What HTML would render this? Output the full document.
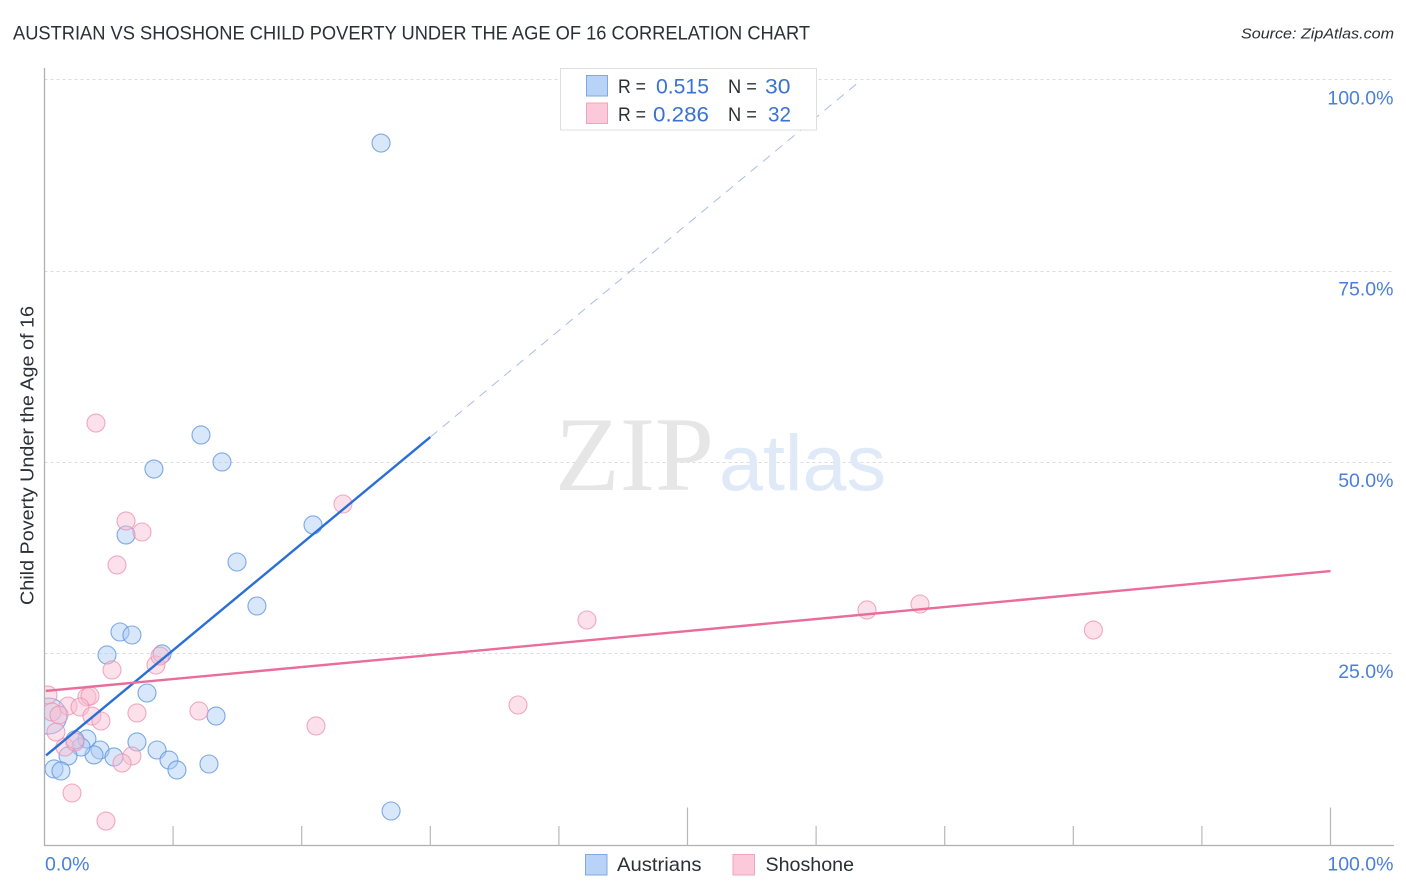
<!DOCTYPE html>
<html lang="en">
<head>
<meta charset="utf-8">
<title>Austrian vs Shoshone Child Poverty Under the Age of 16 Correlation Chart</title>
<style>
html,body{margin:0;padding:0;background:#fff;width:1406px;height:892px;overflow:hidden}
svg{display:block;font-family:"Liberation Sans",sans-serif}
</style>
</head>
<body>
<svg id="chart" xmlns="http://www.w3.org/2000/svg" width="1406" height="892" viewBox="0 0 1406 892">
  <defs>
    <clipPath id="plot-clip"><rect x="45" y="68" width="1349" height="777"/></clipPath>
  </defs>
  <text x="13" y="39.500" font-size="19.500" fill="#2b2f36" textLength="797" lengthAdjust="spacingAndGlyphs">AUSTRIAN VS SHOSHONE CHILD POVERTY UNDER THE AGE OF 16 CORRELATION CHART</text>
  <text x="1241" y="38.500" font-size="15" font-style="italic" fill="#2b2f36" textLength="153" lengthAdjust="spacingAndGlyphs">Source: ZipAtlas.com</text>

  <g id="grid"></g>

  <g>
    <text x="555" y="490" font-family="'Liberation Serif',serif" font-size="106" fill="#e6e6e6" textLength="159" lengthAdjust="spacingAndGlyphs">ZIP</text>
    <text x="719" y="490" font-size="79" fill="#dfe9f8" textLength="167" lengthAdjust="spacingAndGlyphs">atlas</text>
  </g>

  <g id="axes">
    <line x1="44.500" y1="68" x2="44.500" y2="846" stroke="#b0b0b0" stroke-width="1.300"/>
    <line x1="44" y1="845.500" x2="1394" y2="845.500" stroke="#b0b0b0" stroke-width="1.300"/>
  </g>

  <g id="points" clip-path="url(#plot-clip)"></g>
  <g id="trends"></g>
  <g id="tick-labels"></g>

  <text transform="translate(33.500,605) rotate(-90)" font-size="18.500" fill="#2b2f36" textLength="299" lengthAdjust="spacingAndGlyphs">Child Poverty Under the Age of 16</text>

  <g>
    <rect x="560.500" y="68.500" width="256" height="61.500" fill="#fff" stroke="#dfdfdf" stroke-width="1"/>
    <rect x="586.500" y="75.500" width="21" height="20.500" fill="#b9d3f6" stroke="#7fa9e2" stroke-width="1"/>
    <rect x="586.500" y="103" width="21" height="20.500" fill="#fbc9da" stroke="#f0a3bd" stroke-width="1"/>
    <text x="618" y="93" font-size="19" fill="#2b2f36" textLength="28" lengthAdjust="spacingAndGlyphs">R =</text>
    <text x="656" y="93.500" font-size="21" fill="#3a72d2" textLength="53" lengthAdjust="spacingAndGlyphs">0.515</text>
    <text x="728" y="93" font-size="19" fill="#2b2f36" textLength="29" lengthAdjust="spacingAndGlyphs">N =</text>
    <text x="765" y="93.500" font-size="21" fill="#3a72d2" textLength="25.500" lengthAdjust="spacingAndGlyphs">30</text>
    <text x="618" y="121" font-size="19" fill="#2b2f36" textLength="28" lengthAdjust="spacingAndGlyphs">R =</text>
    <text x="653" y="121.500" font-size="21" fill="#3a72d2" textLength="56" lengthAdjust="spacingAndGlyphs">0.286</text>
    <text x="728" y="121" font-size="19" fill="#2b2f36" textLength="29" lengthAdjust="spacingAndGlyphs">N =</text>
    <text x="768" y="121.500" font-size="21" fill="#3a72d2" textLength="23" lengthAdjust="spacingAndGlyphs">32</text>
  </g>

  <g>
    <g>
      <rect x="585.500" y="854.500" width="21.500" height="20.500" fill="#b9d3f6" stroke="#7fa9e2" stroke-width="1"/>
      <text x="617" y="871" font-size="19.500" fill="#2b2f36" textLength="84.500" lengthAdjust="spacingAndGlyphs">Austrians</text>
    </g>
    <g>
      <rect x="733" y="854.500" width="21.500" height="20.500" fill="#fbc9da" stroke="#f0a3bd" stroke-width="1"/>
      <text x="765.500" y="871" font-size="19.500" fill="#2b2f36" textLength="88.500" lengthAdjust="spacingAndGlyphs">Shoshone</text>
    </g>
  </g>
</svg>
<script>
const austrianX = [26.17,12.17,13.80,8.51,20.88,6.34,14.97,16.52,5.87,6.80,4.86,9.14,7.97,13.34,7.19,8.75,9.68,10.30,12.79,3.30,4.32,5.40,3.85,2.84,2.37,1.83,0.74,1.28,0.33,26.95];
const austrianY = [91.80,53.65,50.12,49.20,41.89,40.58,37.05,31.30,27.90,27.51,24.90,25.03,19.93,16.92,13.53,12.48,11.17,9.87,10.65,13.92,12.48,11.57,11.83,12.87,13.79,11.70,10.00,9.74,16.92,4.51];
const austrianWeight = [1,1,1,1,1,1,1,1,1,1,1,1,1,1,1,1,1,1,1,1,1,1,1,1,1,1,1,1,4,1];
const shoshoneX = [4.00,6.34,7.58,5.64,23.21,42.18,63.96,68.08,81.56,36.82,21.11,12.01,7.19,5.25,8.67,8.98,3.30,3.54,1.83,2.76,3.69,4.39,0.27,0.58,1.13,0.89,1.59,2.37,6.80,6.03,2.14,4.78];
const shoshoneY = [55.21,42.41,40.97,36.66,44.63,29.47,30.78,31.56,28.16,18.36,15.62,17.58,17.32,22.94,23.59,24.76,19.41,19.54,18.23,18.10,16.92,16.27,19.67,17.45,17.05,14.83,12.87,13.53,11.70,10.78,6.86,3.20];
const shoshoneWeight = [1,1,1,1,1,1,1,1,1,1,1,1,1,1,1,1,1,1,1,1,1,1,1,1,1,1,1,1,1,1,1,1];
const austrianTrend = [11.6, 1.3925];
const austrianTrendSolidEnd = [30];
const austrianTrendDashEnd = [63.4];
const shoshoneTrend = [20.2, 35.87];
const xTickValues = [0,10,20,30,40,50,60,70,80,90,100];
const xMajorTicks = [50,100];
const xTickLabels = ["0.0%","100.0%"];
const xLabelValues = [0,100];
const yGridValues = [25,50,75,100];
const yTickLabels = ["25.0%","50.0%","75.0%","100.0%"];

const NS = 'http://www.w3.org/2000/svg';
const sx = v => 44.5 + v * 12.86;
const sy = v => 845.5 - v * 7.652;
const baseR = 9;

function mk(parent, tag, attrs) {
  const el = document.createElementNS(NS, tag);
  for (const k in attrs) el.setAttribute(k, attrs[k]);
  parent.appendChild(el);
  return el;
}

const grid = document.getElementById('grid');
yGridValues.forEach(v => {
  const l = mk(grid, 'line', {x1: 44.5, x2: 1394, y1: Math.round(sy(v)) - 0.5, y2: Math.round(sy(v)) - 0.5, stroke: '#dcdcdc', 'stroke-width': 1, 'stroke-dasharray': '3 3'});
  
  
});

const axes = document.getElementById('axes');
xTickValues.forEach(v => {
  if (v === 0) return;
  const top = xMajorTicks.includes(v) ? 807.5 : 826;
  const l = mk(axes, 'line', {x1: sx(v), x2: sx(v), y1: top, y2: 845.5, stroke: '#b8b8b8', 'stroke-width': 1.2});
  
  
});

const points = document.getElementById('points');
austrianX.forEach((x, i) => {
  const c = mk(points, 'circle', {cx: sx(x), cy: sy(austrianY[i]), r: baseR * Math.sqrt(austrianWeight[i]), fill: '#a9c9f5', 'fill-opacity': 0.45, stroke: '#5f96de', 'stroke-opacity': 0.8, 'stroke-width': 1.1});
  
  
});
shoshoneX.forEach((x, i) => {
  const c = mk(points, 'circle', {cx: sx(x), cy: sy(shoshoneY[i]), r: baseR * Math.sqrt(shoshoneWeight[i]), fill: '#f9bdd1', 'fill-opacity': 0.45, stroke: '#ec8fae', 'stroke-opacity': 0.75, 'stroke-width': 1.1});
  
  
});

const trends = document.getElementById('trends');
const aY = x => austrianTrend[0] + austrianTrend[1] * x;
const sEnd = austrianTrendSolidEnd[0];
const dEnd = austrianTrendDashEnd[0];
const dash = mk(trends, 'line', {x1: sx(sEnd), y1: sy(aY(sEnd)), x2: sx(dEnd), y2: sy(aY(dEnd)), stroke: '#a9bbe3', 'stroke-width': 1, 'stroke-dasharray': '9 7'});


const solid = mk(trends, 'line', {x1: sx(0.12), y1: sy(aY(0.12)), x2: sx(sEnd), y2: sy(aY(sEnd)), stroke: '#2a6fd6', 'stroke-width': 2.4});


const pink = mk(trends, 'line', {x1: sx(0.1), y1: sy(shoshoneTrend[0]), x2: sx(100), y2: sy(shoshoneTrend[1]), stroke: '#ea6c99', 'stroke-width': 2.4});



const labels = document.getElementById('tick-labels');
yGridValues.forEach((v, i) => {
  const t = mk(labels, 'text', {x: 1393.5, y: sy(v) + 24, 'text-anchor': 'end', 'font-size': 19.5, fill: '#4a7fd9'});
  t.textContent = yTickLabels[i];
  
  
});
xLabelValues.forEach((v, i) => {
  const t = mk(labels, 'text', {x: v === 0 ? 45 : 1393.5, y: 870.5, 'text-anchor': v === 0 ? 'start' : 'end', 'font-size': 19.5, fill: '#4a7fd9'});
  t.textContent = xTickLabels[i];
  
  
});
</script>
</body>
</html>
